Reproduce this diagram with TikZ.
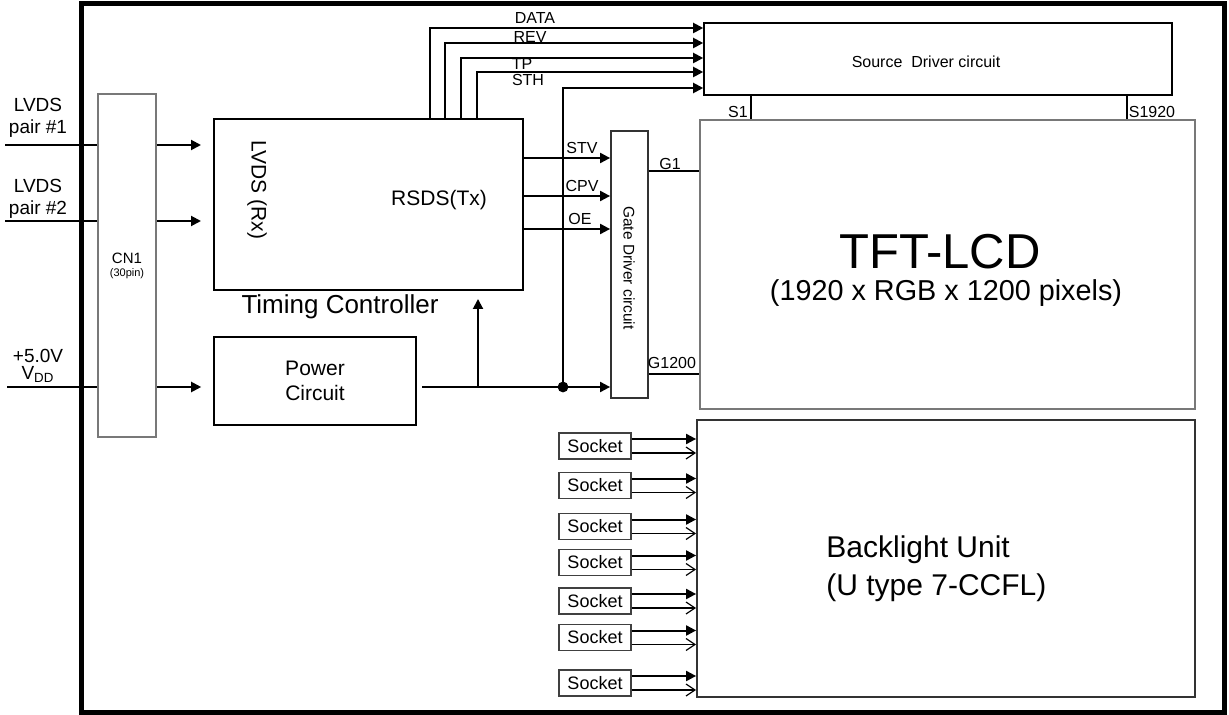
\documentclass[tikz,border=0pt]{standalone}
\usepackage{fontspec}
\setmainfont{Liberation Sans}
\usetikzlibrary{arrows.meta,calc}
\definecolor{boxgray}{RGB}{120,120,120}
\tikzset{
  block/.style={draw=black,line width=0.8pt,inner sep=0pt},
  grayblock/.style={draw=boxgray,line width=0.9pt,inner sep=0pt},
  socketbox/.style={draw=black!75,line width=0.7pt,minimum width=36pt,minimum height=13pt,
    inner sep=0pt,font=\fontsize{9}{10}\selectfont},
  sigarrow/.style={-{Triangle[length=5pt,width=5pt]},line width=1pt},
  openarrow/.style={-{Straight Barb[length=4.5pt,width=6pt]},line width=0.6pt},
  pinline/.style={line width=0.9pt},
  inline/.style={line width=0.8pt},
  siglabel/.style={font=\fontsize{8}{9}\selectfont,inner sep=0pt},
  inlabel/.style={font=\fontsize{9.5}{11}\selectfont,align=center,inner sep=0pt},
  midtext/.style={font=\fontsize{10.5}{12.5}\selectfont,align=center,inner sep=0pt},
  bigtext/.style={font=\fontsize{13}{15}\selectfont,align=center,inner sep=0pt}
}

\begin{document}
\begin{tikzpicture}[x=0.5pt,y=-0.5pt]
  \useasboundingbox (0,0) rectangle (1229,715);
  \draw[line width=2.5pt] (81,4) rectangle (1224,712);

  \node[grayblock,minimum width=29pt,minimum height=171.5pt,align=center,
    font=\fontsize{7.5}{7}\selectfont] (cn1) at (127,265.5)
    {CN1\\[-0.5pt]{\fontsize{5.5}{5.5}\selectfont (30pin)}};
  \node[block,line width=1pt,minimum width=154.5pt,minimum height=85.5pt] (tcon) at (368.5,204.5) {};
  \node[block,minimum width=101pt,minimum height=44pt,midtext] (power) at (315,381) {Power\\Circuit};
  \node[block,minimum width=234pt,minimum height=36pt] (src) at (938,59) {};
  \node[grayblock,draw=black!80,minimum width=18.5pt,minimum height=133.5pt] (gate) at (629.5,264.5) {};
  \node[grayblock,line width=1pt,minimum width=247.5pt,minimum height=144.5pt] (tft) at (947.5,264.5) {};
  \node[grayblock,draw=black!80,minimum width=249pt,minimum height=138.5pt] (blu) at (946,558.5) {};

  \node[midtext,rotate=-90] (rx) at (257,190) {LVDS (Rx)};
  \node[midtext] (tx) at (439,200) {RSDS(Tx)};
  \node[bigtext] (tcname) at (340,307) {Timing Controller};
  \node[font=\fontsize{8}{9}\selectfont,inner sep=0pt] (srcname) at (926,62) {Source\ \ Driver circuit};
  \node[font=\fontsize{7.7}{8}\selectfont,inner sep=0pt,rotate=-90] (gatename) at (629,268) {Gate Driver circuit};
  \node[font=\fontsize{24.5}{26}\selectfont,inner sep=0pt] (tfttitle) at (940,252) {TFT-LCD};
  \node[font=\fontsize{14.4}{16}\selectfont,inner sep=0pt] (tftres) at (946,293) {(1920 x RGB x 1200 pixels)};
  \node[font=\fontsize{15}{19}\selectfont,align=left,anchor=west,inner sep=0pt] (bluname) at (826,569)
    {Backlight Unit\\(U type 7-CCFL)};

  \node[inlabel] (lin1) at (38,118) {LVDS\\pair \#1};
  \node[inlabel] (lin2) at (38,199) {LVDS\\pair \#2};
  \node[inlabel] (lin3) at (38,366) {+5.0V\\[-2.5pt]V\textsubscript{DD}};
  \coordinate (in1) at (5,145);
  \coordinate (in2) at (5,221);
  \coordinate (in3) at (7,387);
  \foreach \n in {in1,in2,in3} {
    \draw[inline] (\n) -- (cn1.west |- \n);
  }
  \draw[sigarrow] (cn1.east |- in1) -- ($(tcon.west |- in1)+(-12,0)$);
  \draw[sigarrow] (cn1.east |- in2) -- ($(tcon.west |- in2)+(-12,0)$);
  \draw[sigarrow] (cn1.east |- in3) -- ($(power.west |- in3)+(-12,0)$);

  \foreach \x/\y/\n in {430/28/1,445/43/2,461/58/3,477/72/4} {
    \coordinate (bus\n) at (\x,\y);
    \draw[sigarrow] (bus\n |- tcon.north) -- (bus\n) -- (src.west |- bus\n);
  }
  \node[siglabel] (ldata) at (535,18) {DATA};
  \node[siglabel] (lrev) at (530,37) {REV};
  \node[siglabel] (ltp) at (522,64) {TP};
  \node[siglabel] (lsth) at (528,80) {STH};

  \foreach \y/\n/\t/\lx in {158/stv/STV/582,196/cpv/CPV/582,229/oe/OE/580} {
    \coordinate (\n) at (523,\y);
    \draw[sigarrow] (tcon.east |- \n) -- (gate.west |- \n);
    \node[siglabel] (l\n) at (\lx,\y-10) {\t};
  }

  \coordinate (pw) at (422,387);
  \coordinate (tap) at (478,387);
  \coordinate (junc) at (563,387);
  \coordinate (sthin) at (563,88);
  \draw[sigarrow] (pw) -- (gate.west |- pw);
  \draw[sigarrow] (tap) -- ($(tap |- tcon.south)+(0,8)$);
  \draw[sigarrow] (junc) -- (sthin) -- (src.west |- sthin);
  \fill (junc) circle (2.7pt);

  \coordinate (sp1) at (751,95);
  \coordinate (sp2) at (1127,95);
  \draw[pinline] (sp1 |- src.south) -- (sp1 |- tft.north);
  \draw[pinline] (sp2 |- src.south) -- (sp2 |- tft.north);
  \node[siglabel] (ls1) at (738,112) {S1};
  \node[siglabel] (ls2) at (1152,112) {S1920};

  \coordinate (gp1) at (648,171);
  \coordinate (gp2) at (648,374);
  \draw[pinline] (gate.east |- gp1) -- (tft.west |- gp1);
  \draw[pinline] (gate.east |- gp2) -- (tft.west |- gp2);
  \node[siglabel] (lg1) at (670,164) {G1};
  \node[siglabel] (lg2) at (672,363) {G1200};

  \foreach \y [count=\i] in {446,485.5,526.5,562.5,601,637.5,683} {
    \node[socketbox] (sk\i) at (595,\y) {Socket};
    \coordinate (ska\i) at ($(sk\i.east)+(0,-7)$);
    \coordinate (skb\i) at ($(sk\i.east)+(0,7)$);
    \draw[sigarrow] (ska\i) -- (ska\i -| blu.west);
    \draw[openarrow] (skb\i) -- (skb\i -| blu.west);
  }
\end{tikzpicture}
\end{document}
